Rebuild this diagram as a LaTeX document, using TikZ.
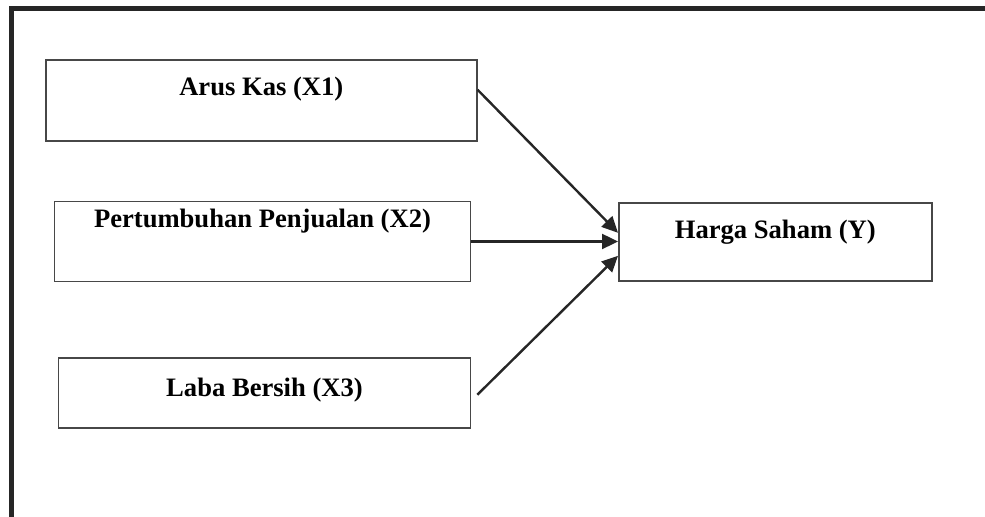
\documentclass[tikz,border=0pt]{standalone}
\usepackage{fontspec}
\setmainfont{Liberation Serif}
\usetikzlibrary{arrows.meta,calc}

\begin{document}
\begin{tikzpicture}[x=0.5pt,y=-0.5pt,
  varbox/.style={draw=black!72, line width=0.8pt, inner sep=0pt, anchor=north west,
    font=\fontsize{13.3}{15}\selectfont\bfseries},
  link/.style={draw=black!85, line width=1.2pt, -{Triangle[length=8pt,width=7.5pt]}}]

  \useasboundingbox (0,0) rectangle (985,517);

  % outer frame
  \draw[black!85, line width=2.6pt] (11.5,517) -- (11.5,8.5) -- (985,8.5);

  % variables
  \node[varbox, minimum width=215.5pt, text height=18pt, text depth=22.5pt] (arus) at (45,59) {Arus Kas (X1)};
  \node[varbox, minimum width=208pt, text height=13pt, text depth=27pt] (tumbuh) at (53.7,200.7) {Pertumbuhan Penjualan (X2)};
  \node[varbox, minimum width=206pt, text height=19.5pt, text depth=15.5pt] (laba) at (57.7,357) {Laba Bersih (X3)};
  \node[varbox, minimum width=156.5pt, text height=18pt, text depth=21pt] (harga) at (618,202) {Harga Saham (Y)};

  % arrows
  \draw[link] ($(arus.east)+(0,-10.5)$) -- ($(harga.west)+(0,-9)$);
  \draw[link] (tumbuh.east) -- (tumbuh.east -| harga.west);
  \draw[link] ($(laba.east)+(6,2)$) -- ($(harga.west)+(0,14)$);

\end{tikzpicture}
\end{document}
